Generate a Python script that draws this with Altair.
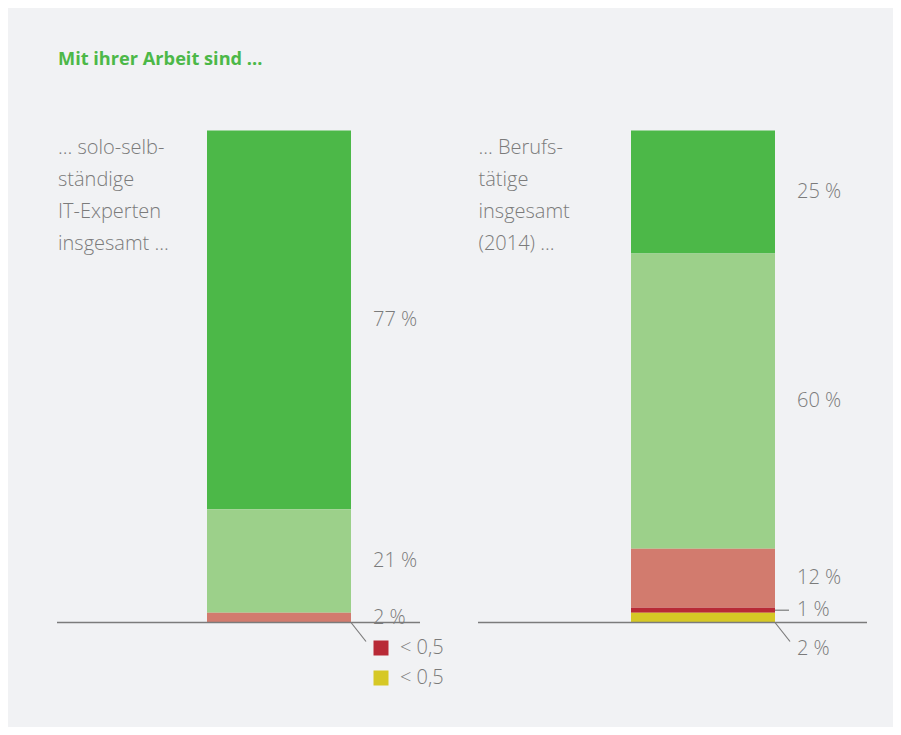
import altair as alt
import pandas as pd

# ---------------- data ----------------
title = "Mit ihrer Arbeit sind ..."
group_text = ["... solo-selb-\nständige\nIT-Experten\ninsgesamt ...",
              "... Berufs-\ntätige\ninsgesamt\n(2014) ..."]
levels = ["sehr zufrieden", "zufrieden", "weniger zufrieden", "unzufrieden", "keine Angabe"]
colors = ["#4cb848", "#9cd08a", "#d27b6e", "#b82a36", "#d6c825"]
values_it = [77, 21, 2, 0, 0]          # the last two are "< 0,5"
values_all = [25, 60, 12, 1, 2]
labels_it = ["77 %", "21 %", "2 %", "< 0,5", "< 0,5"]
labels_all = ["25 %", "60 %", "12 %", "1 %", "2 %"]
place_it = ["side", "side", "side", "legend", "legend"]
place_all = ["side", "side", "side", "leader", "below"]

# ---------------- layout constants (pixels) ----------------
W, H = 885, 719
PX_X = 424.0          # pixels between the two bar centres
PX_Y = 4.92           # pixels per percentage point
X0_VIEW = 271         # view x of first bar centre
Y0_VIEW = 614.5       # view y of 0 %
HALF_BAR = 72
base_left = [222, 225]
base_right = [141, 164]
label_left = [221, 224.5]
GREY = "#7b7b7b"
FONT = "Open Sans"
FS = 20

x_d0 = -X0_VIEW / PX_X
x_dom = [x_d0, x_d0 + W / PX_X]
y_d0 = -(H - Y0_VIEW) / PX_Y
y_dom = [y_d0, y_d0 + H / PX_Y]

rows = []
for g, (vals, labs, plc) in enumerate([(values_it, labels_it, place_it),
                                        (values_all, labels_all, place_all)]):
    for k in range(len(levels)):
        lo = sum(vals[k + 1:])
        hi = lo + vals[k]
        rows.append(dict(g=g, level=levels[k], lo=lo, hi=hi, mid=(lo + hi) / 2,
                         label=labs[k], place=plc[k]))
df = pd.DataFrame(rows)

xs = alt.Scale(domain=x_dom, nice=False, zero=False, padding=0)
ys = alt.Scale(domain=y_dom, nice=False, zero=False, padding=0)
cs = alt.Scale(domain=levels, range=colors)

X = lambda f: alt.X(f, type="quantitative", scale=xs, axis=None)
Y = lambda f: alt.Y(f, type="quantitative", scale=ys, axis=None)

bars = alt.Chart(df).mark_bar(size=2 * HALF_BAR).encode(
    x=X("g"), y=Y("lo"), y2="hi",
    color=alt.Color("level:N", scale=cs, legend=None),
)

gdf = pd.DataFrame({"g": [0, 1], "txt": group_text})
gdf["xl"] = gdf["g"] - pd.Series(base_left) / PX_X
gdf["xr"] = gdf["g"] + pd.Series(base_right) / PX_X
gdf["tx"] = gdf["g"] - pd.Series(label_left) / PX_X
gdf["y0"] = 0.0
gdf["top"] = 100.0
gdf["dx1"] = gdf["g"] + HALF_BAR / PX_X
gdf["dx2"] = gdf["g"] + (HALF_BAR + 15) / PX_X
gdf["dy2"] = -19 / PX_Y

baseline = alt.Chart(gdf).mark_rule(color=GREY, strokeWidth=1.6).encode(
    x=X("xl"), x2="xr", y=Y("y0"))

diag = alt.Chart(gdf).mark_rule(color=GREY, strokeWidth=1.2).encode(
    x=X("dx1"), x2="dx2", y=Y("y0"), y2="dy2")

glabels = alt.Chart(gdf).mark_text(
    align="left", baseline="alphabetic", dy=23, lineBreak="\n",
    lineHeight=32, font=FONT, fontSize=FS, fontWeight=300, color=GREY
).encode(x=X("tx"), y=Y("top"), text="txt:N")

side = alt.Chart(df).transform_filter(
    "datum.place == 'side' || datum.place == 'leader'"
).mark_text(align="left", baseline="middle", dx=HALF_BAR + 22, font=FONT,
            fontSize=FS, fontWeight=300, color=GREY).encode(
    x=X("g"), y=Y("mid"), text="label:N")

ldf = df[df["place"] == "leader"].copy()
ldf["lx1"] = ldf["g"] + HALF_BAR / PX_X
ldf["lx2"] = ldf["g"] + (HALF_BAR + 14) / PX_X
leader = alt.Chart(ldf).mark_rule(color=GREY, strokeWidth=1.2).encode(
    x=X("lx1"), x2="lx2", y=Y("mid"))

bdf = df[df["place"] == "below"].copy()
bdf["y0"] = 0.0
below = alt.Chart(bdf).mark_text(align="left", baseline="middle", dx=HALF_BAR + 22,
                                 dy=26, font=FONT, fontSize=FS, fontWeight=300,
                                 color=GREY).encode(
    x=X("g"), y=Y("y0"), text="label:N")

legdf = df[df["place"] == "legend"].copy().reset_index(drop=True)
legdf["r"] = range(len(legdf))
legdf["sx"] = legdf["g"] + (HALF_BAR + 30) / PX_X
legdf["sy"] = -(25.5 + 30 * legdf["r"]) / PX_Y
squares = alt.Chart(legdf).mark_square(size=225, opacity=1).encode(
    x=X("sx"), y=Y("sy"),
    color=alt.Color("level:N", scale=cs, legend=None))
legtext = alt.Chart(legdf).mark_text(align="left", baseline="middle",
                                     dx=HALF_BAR + 49, font=FONT, fontSize=FS,
                                     fontWeight=300, color=GREY).encode(
    x=X("g"), y=Y("sy"), text="label:N")

tdf = pd.DataFrame({"t": [title]})
ttl = alt.Chart(tdf).mark_text(align="left", baseline="middle", font=FONT,
                               fontSize=18.2, fontWeight="bold",
                               color="#4cb848").encode(
    x=alt.value(50), y=alt.value(52), text="t:N")

chart = alt.layer(bars, baseline, diag, leader, glabels, side, below, squares,
                  legtext, ttl).properties(
    width=W, height=H, padding=0,
    autosize=alt.AutoSizeParams(type="none"),
    background="#f1f2f4",
).configure_view(stroke=None)

chart.save("out.html", embed_options={"renderer": "svg", "actions": False})
